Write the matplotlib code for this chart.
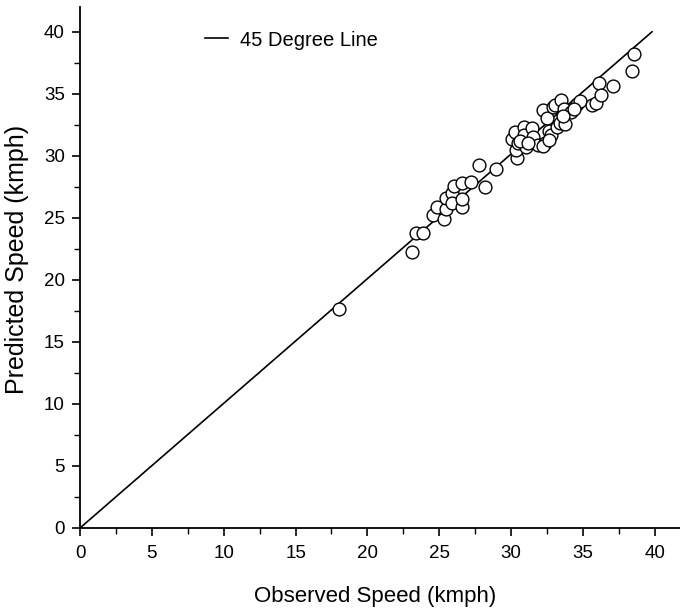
import matplotlib
matplotlib.use("Agg")
import matplotlib.pyplot as plt
from matplotlib.ticker import MultipleLocator

plt.rcParams["font.family"] = ["Liberation Sans", "DejaVu Sans"]

# Observed vs. predicted speeds (kmph)
observed = [
    18.02, 23.08, 23.35, 23.90, 24.56, 24.84, 25.33, 25.49, 25.49, 25.88,
    25.99, 25.88, 26.59, 26.59, 26.59, 27.20, 27.75, 28.21, 28.96,
    30.05, 30.27, 30.41, 30.33, 30.47, 30.88, 30.88, 31.02, 31.43, 31.51,
    31.84, 32.25, 32.34, 32.53, 32.66, 32.75, 32.88, 33.02, 33.21, 33.43,
    33.49, 33.71, 33.76, 34.20, 34.59, 34.81, 35.63, 35.91, 36.13, 36.24,
    37.06, 38.38, 38.54,
    30.60, 31.20, 32.20, 32.60, 33.60, 34.40,
]
predicted = [
    17.68, 22.24, 23.77, 23.77, 25.25, 25.85, 24.92, 25.68, 26.64, 26.97,
    27.54, 26.23, 25.90, 26.50, 27.84, 27.92, 29.23, 27.51, 28.96,
    31.34, 31.89, 29.86, 30.49, 31.01, 32.30, 31.69, 30.68, 32.24, 31.56,
    30.87, 33.66, 31.01, 33.06, 31.97, 31.69, 33.93, 34.10, 32.30, 32.65,
    34.54, 33.74, 32.57, 33.52, 34.15, 34.43, 34.07, 34.29, 35.85, 34.92,
    35.66, 36.83, 38.20,
    31.20, 31.00, 30.80, 31.30, 33.20, 33.80,
]

# Reference line
ref_x = [0, 39.8]
ref_y = [0, 40]

x_ticks = [0, 5, 10, 15, 20, 25, 30, 35, 40]
y_ticks = [0, 5, 10, 15, 20, 25, 30, 35, 40]

W, H = 680, 611
fig = plt.figure(figsize=(W / 100, H / 100), dpi=100)
ax = fig.add_axes([80 / W, (H - 528) / H, 600 / W, 521 / H])

ax.plot(ref_x, ref_y, color="black", lw=1.2, label="45 Degree Line", zorder=2)
ax.scatter(observed, predicted, s=85, facecolors="white", edgecolors="black",
           linewidths=1.0, zorder=3)

ax.set_xlim(0, 41.75)
ax.set_ylim(0, 42.0)
ax.set_xticks(x_ticks)
ax.set_yticks(y_ticks)
ax.xaxis.set_minor_locator(MultipleLocator(2.5))
ax.yaxis.set_minor_locator(MultipleLocator(2.5))

for side in ("top", "right"):
    ax.spines[side].set_visible(False)
for side in ("left", "bottom"):
    ax.spines[side].set_linewidth(1.3)

ax.tick_params(which="major", direction="out", length=6, width=1.2,
               labelsize=13.5)
ax.tick_params(axis="x", which="major", pad=6)
ax.tick_params(axis="y", which="major", pad=5)
ax.tick_params(which="minor", direction="out", length=4, width=1.0)

ax.set_xlabel("Observed Speed (kmph)", fontsize=16)
ax.set_ylabel("Predicted Speed (kmph)", fontsize=18)
ax.xaxis.set_label_coords(375 / W, 1 - 586 / H, transform=fig.transFigure)
ax.yaxis.set_label_coords(29 / W, 1 - 259 / H, transform=fig.transFigure)

ax.legend(loc="center left", bbox_to_anchor=(205 / W, 1 - 40 / H),
          bbox_transform=fig.transFigure, frameon=False, fontsize=14.5,
          handlelength=1.15, handletextpad=0.6, borderpad=0,
          borderaxespad=0)

fig.savefig("out.png", dpi=100)
